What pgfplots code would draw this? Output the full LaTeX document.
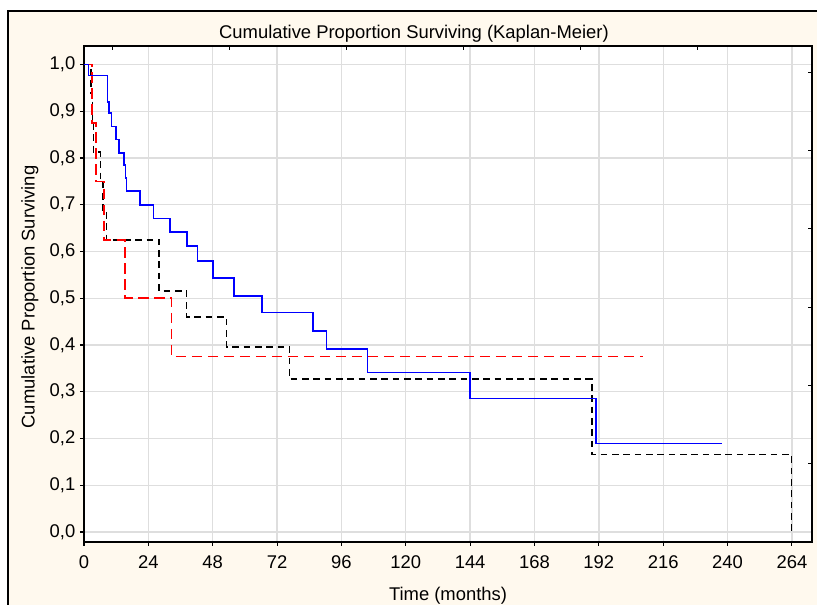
\documentclass[border=0pt]{standalone}
\usepackage{fontspec}
\setmainfont{Liberation Sans}
\usepackage{pgfplots}
\pgfplotsset{compat=1.18}
\definecolor{cream}{RGB}{255,249,238}
\definecolor{gridgray}{RGB}{222,222,222}
\begin{document}
\begin{tikzpicture}[x=1pt,y=1pt]
\useasboundingbox (-63,-47.25) rectangle (549.75,406.5);
\fill[white] (-63,-47.25) rectangle (549.75,406.5);
\draw[line width=1.2pt, fill=cream] (-57,-60) rectangle (560,398.25);
\begin{axis}[
  at={(0,0)}, anchor=south west,
  scale only axis, width=546pt, height=372pt,
  xmin=0, xmax=271.5, ymin=-0.0214, ymax=1.0396,
  xtick={0,24,48,72,96,120,144,168,192,216,240,264},
  ytick={0,0.1,0.2,0.3,0.4,0.5,0.6,0.7,0.8,0.9,1.0},
  axis background/.style={fill=white},
  grid=major, major grid style={gridgray, line width=1pt},
  axis line style={line width=1pt},
  tick align=outside, tick pos=left, major tick length=3pt,
  tick style={black, line width=0.8pt},
  /pgf/number format/assume math mode=true,
  yticklabel style={/pgf/number format/.cd, fixed, fixed zerofill, precision=1, use comma},
  xticklabel style={/pgf/number format/.cd, fixed, precision=0, /tikz/yshift=-3.5pt},
  ticklabel style={font=\fontsize{13.8}{16}\selectfont},
  title={Cumulative Proportion Surviving (Kaplan-Meier)},
  title style={at={(axis description cs:0.4533,1.008)}, anchor=center, font=\fontsize{13.8}{16}\selectfont},
  xlabel={Time (months)},
  xlabel style={at={(axis description cs:0.5,-0.108)}, anchor=center, font=\fontsize{13.8}{16}\selectfont},
  ylabel={Cumulative Proportion Surviving},
  ylabel style={at={(axis description cs:-0.0742,0.494)}, anchor=center, font=\fontsize{13.8}{16}\selectfont},
]
\addplot[const plot, black, line width=1.15pt, dash pattern=on 5pt off 3.5pt] coordinates {
(0,1) (2.6,0.9375) (3.1,0.875) (3.5,0.8125) (6.2,0.75) (7.0,0.6875) (8.4,0.625)
(28.0,0.516) (38.2,0.460) (53.1,0.396) (76.6,0.327) (189.4,0.166) (263.8,0) };
\addplot[const plot, red, line width=1.15pt, dash pattern=on 8pt off 4pt] coordinates {
(0,1) (3.0,0.875) (4.5,0.75) (7.4,0.625) (15.3,0.5) (32.7,0.375) (208.3,0.375) };
\addplot[const plot, blue, line width=1.15pt] coordinates {
(0,1) (1.6,0.976) (8.7,0.920) (9.4,0.896) (10.3,0.867) (11.9,0.840) (13.1,0.811)
(15.0,0.785) (15.5,0.757) (15.9,0.729) (20.9,0.700) (26.0,0.671) (32.1,0.642)
(38.5,0.612) (42.3,0.580) (48.2,0.543) (55.9,0.505) (66.4,0.470) (85.4,0.430)
(90.4,0.392) (105.8,0.341) (144.0,0.286) (190.9,0.189) (237.8,0.189) };
\end{axis}
\begin{axis}[
  at={(0,0)}, anchor=south west,
  scale only axis, width=546pt, height=372pt,
  xmin=0, xmax=271.5, ymin=-0.0214, ymax=1.0396,
  axis line style={draw=none},
  xtick={10.8,54.4,98,141.6,185.2,228.8},
  ytick={0.147,0.314,0.481,0.649,0.816,0.983},
  xticklabels={}, yticklabels={},
  tick pos=right, tick align=inside, major tick length=3pt,
  tick style={black, line width=0.8pt},
]
\end{axis}
\end{tikzpicture}
\end{document}
